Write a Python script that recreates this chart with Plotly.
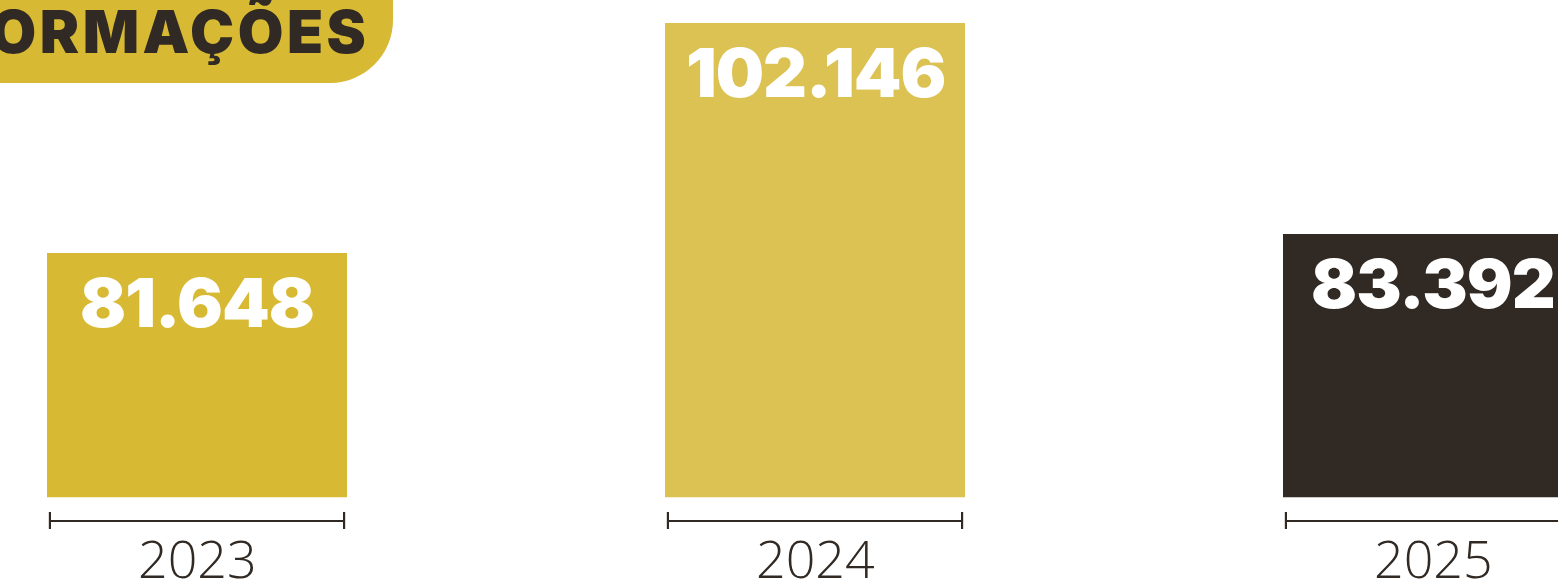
import plotly.graph_objects as go

# Data
years = ["2023", "2024", "2025"]
formacoes = [81648, 102146, 83392]
bar_colors = ["#D7B933", "#DBC252", "#312923"]
badge_title = "INFORMAÇÕES"

W, H = 1558, 582
DARK = "#312923"
GOLD = "#D7B933"


def px_x(p):
    return p / W


def px_y(p):
    return 1 - p / H


def fmt(v):
    return f"{v:,}".replace(",", ".")


def spaced(text, px):
    return f'<span style="letter-spacing:{px}px">{text}</span>'


fig = go.Figure()
fig.add_trace(go.Bar(
    x=years,
    y=formacoes,
    marker=dict(color=bar_colors, line=dict(width=0)),
    width=0.4846,
    hoverinfo="skip",
))

shapes = []
annotations = []

# Badge in the top-left corner (rounded bottom-right)
r = 63
x1, y1 = 393, 83
path = (
    f"M {px_x(-20)},{px_y(-100)} L {px_x(x1)},{px_y(-100)} "
    f"L {px_x(x1)},{px_y(y1 - r)} "
    f"C {px_x(x1)},{px_y(y1 - r * 0.45)} {px_x(x1 - r * 0.45)},{px_y(y1)} {px_x(x1 - r)},{px_y(y1)} "
    f"L {px_x(-20)},{px_y(y1)} Z"
)
shapes.append(dict(type="path", xref="paper", yref="paper", path=path,
                   fillcolor=GOLD, line=dict(width=0), layer="below"))
annotations.append(dict(
    text=spaced(badge_title, 3.5), xref="paper", yref="paper",
    x=px_x(371), y=px_y(31), xanchor="right", yanchor="middle",
    showarrow=False,
    font=dict(family="Inter", size=59, color=DARK, weight=900),
))

# Value labels near the top of each bar, and year brackets below
half = 0.476 / 2
for i, (yr, v) in enumerate(zip(years, formacoes)):
    annotations.append(dict(
        text=spaced(fmt(v), -1), x=i, y=v, xref="x", yref="y",
        yanchor="middle", yshift=-49, showarrow=False,
        font=dict(family="Inter", size=68, color="white", weight=900),
    ))
    shapes.append(dict(type="line", xref="x", yref="paper",
                       x0=i - half, x1=i + half, y0=px_y(521), y1=px_y(521),
                       line=dict(color=DARK, width=2.2)))
    for xe in (i - half, i + half):
        shapes.append(dict(type="line", xref="x", yref="paper",
                           x0=xe, x1=xe, y0=px_y(512), y1=px_y(529),
                           line=dict(color=DARK, width=2.2)))
    annotations.append(dict(
        text=yr, x=i, y=px_y(557), xref="x", yref="paper",
        yanchor="middle", showarrow=False,
        font=dict(family="Open Sans", size=52, color=DARK, weight=300),
    ))

fig.update_layout(
    width=W, height=H,
    margin=dict(l=0, r=0, t=0, b=0),
    paper_bgcolor="white", plot_bgcolor="white",
    showlegend=False,
    shapes=shapes,
    annotations=annotations,
    xaxis=dict(type="category", range=[-197 / 618, (W - 197) / 618],
               showticklabels=False, showgrid=False, zeroline=False,
               showline=False, ticks=""),
    yaxis=dict(domain=[px_y(497.3), 1], range=[59960, 104170], visible=False,
               showgrid=False, zeroline=False),
    bargap=0,
)

fig.write_html("out.html")
